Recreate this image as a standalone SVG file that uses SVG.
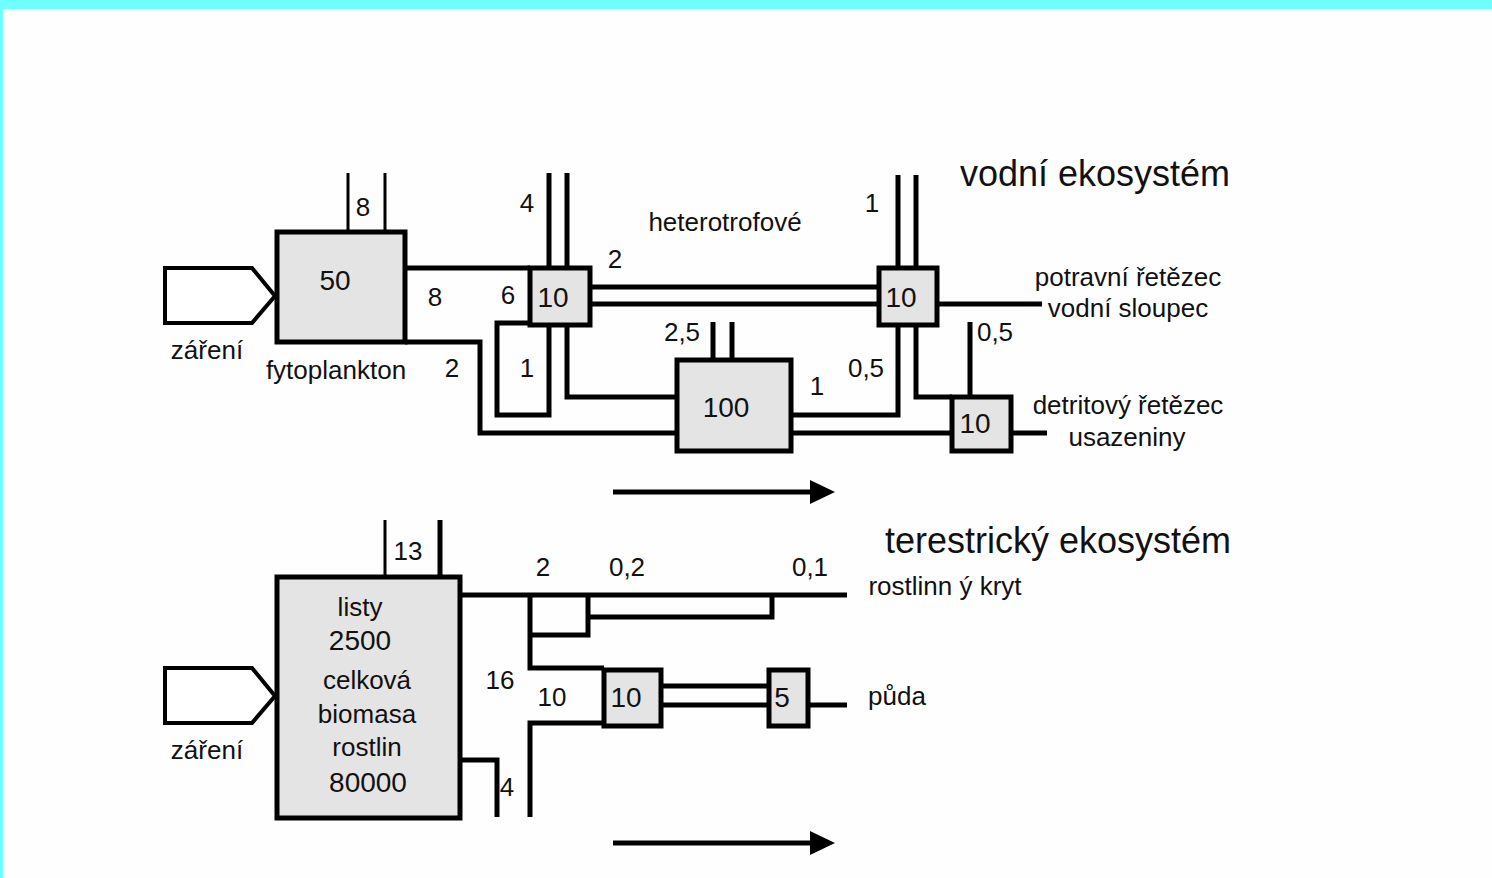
<svg xmlns="http://www.w3.org/2000/svg" width="1492" height="878" viewBox="0 0 1492 878">
<style>
text{font-family:"Liberation Sans",Arial,sans-serif;font-size:26px;fill:#111;text-anchor:middle;dominant-baseline:central}
.t{font-size:36px}
.n{font-size:28px}
.box{fill:#e4e4e4;stroke:#000;stroke-width:5}
.c{fill:none;stroke:#000;stroke-width:5}
.thin{fill:none;stroke:#000;stroke-width:3}
.src{fill:#fff;stroke:#000;stroke-width:4;stroke-linejoin:miter}
</style>
<rect x="0" y="0" width="1492" height="878" fill="#fefefe"/>
<rect x="0" y="0" width="1492" height="9" fill="#70ffff"/>
<rect x="0" y="0" width="3" height="878" fill="#70ffff"/>

<g id="connectors">
  <path class="thin" d="M348,173 V232 M385,173 V232"/>
  <path class="c" d="M405,268 H530"/>
  <path class="c" d="M405,342 H480 V433 H677"/>
  <path class="c" d="M549,173 V268 M567,173 V268"/>
  <path class="c" d="M590,287 H879 M590,304 H879"/>
  <path class="c" d="M530,323 H497 V415 H549 V325"/>
  <path class="c" d="M567,325 V397 H677"/>
  <path class="c" d="M713,322 V360 M732,322 V360"/>
  <path class="c" d="M791,415 H898 V325"/>
  <path class="c" d="M791,433 H952"/>
  <path class="c" d="M898,175 V268 M916,175 V268"/>
  <path class="c" d="M916,325 V397 H952"/>
  <path class="c" d="M970,322 V397"/>
  <path class="c" d="M937,304 H1042"/>
  <path class="c" d="M1011,433 H1047"/>
  <path class="c" d="M613,492 H812"/>
  <polygon points="810,480 835,492 810,504" fill="#000"/>

  <path class="thin" d="M385,520 V577"/>
  <path class="c" d="M440,520 V577"/>
  <path class="c" d="M460,595 H847"/>
  <path class="c" d="M530,595 V668 H604"/>
  <path class="c" d="M530,635 H588 V595"/>
  <path class="c" d="M588,617 H772 V595"/>
  <path class="c" d="M661,686 H769 M661,705 H769"/>
  <path class="c" d="M808,705 H847"/>
  <path class="c" d="M604,723 H530 V817"/>
  <path class="c" d="M460,760 H497 V817"/>
  <path class="c" d="M613,843 H812"/>
  <polygon points="810,831 835,843 810,855" fill="#000"/>
</g>

<g id="zareni-top">
  <polygon class="src" points="165,268 252,268 275,296 252,323 165,323"/>
  <text x="207" y="350">záření</text>
</g>
<g id="fytoplankton">
  <rect class="box" x="277" y="232" width="128" height="110"/>
  <text class="n" x="335" y="280">50</text>
  <text x="336" y="370">fytoplankton</text>
</g>
<g id="het1">
  <rect class="box" x="530" y="268" width="60" height="57"/>
  <text class="n" x="553" y="297">10</text>
</g>
<g id="het100">
  <rect class="box" x="677" y="360" width="114" height="91"/>
  <text class="n" x="726" y="407">100</text>
</g>
<g id="het2">
  <rect class="box" x="879" y="268" width="58" height="57"/>
  <text class="n" x="901" y="297">10</text>
</g>
<g id="det">
  <rect class="box" x="952" y="397" width="59" height="54"/>
  <text class="n" x="975" y="423">10</text>
</g>

<g id="labels-top">
  <text x="363" y="207">8</text>
  <text x="435" y="297">8</text>
  <text x="452" y="368">2</text>
  <text x="527" y="203">4</text>
  <text x="725" y="222">heterotrofové</text>
  <text x="615" y="259">2</text>
  <text x="508" y="295">6</text>
  <text x="527" y="368">1</text>
  <text x="682" y="332">2,5</text>
  <text x="817" y="386">1</text>
  <text x="872" y="203">1</text>
  <text x="866" y="368">0,5</text>
  <text x="995" y="332">0,5</text>
  <text class="t" x="1095" y="173">vodní ekosystém</text>
  <text x="1128" y="277">potravní řetězec</text>
  <text x="1128" y="308">vodní sloupec</text>
  <text x="1128" y="405">detritový řetězec</text>
  <text x="1127" y="437">usazeniny</text>
</g>

<g id="zareni-bottom">
  <polygon class="src" points="165,668 252,668 275,696 252,723 165,723"/>
  <text x="207" y="750">záření</text>
</g>
<g id="rostliny">
  <rect class="box" x="277" y="577" width="183" height="241"/>
  <text x="360" y="607">listy</text>
  <text class="n" x="360" y="640">2500</text>
  <text x="367" y="680">celková</text>
  <text x="367" y="714">biomasa</text>
  <text x="367" y="747">rostlin</text>
  <text class="n" x="368" y="782">80000</text>
</g>
<g id="puda10">
  <rect class="box" x="604" y="670" width="57" height="56"/>
  <text class="n" x="626" y="697">10</text>
</g>
<g id="puda5">
  <rect class="box" x="769" y="670" width="39" height="56"/>
  <text class="n" x="782" y="697">5</text>
</g>
<g id="labels-bottom">
  <text x="408" y="551">13</text>
  <text x="543" y="567">2</text>
  <text x="627" y="567">0,2</text>
  <text x="810" y="567">0,1</text>
  <text x="500" y="680">16</text>
  <text x="552" y="697">10</text>
  <text x="507" y="787">4</text>
  <text class="t" x="1058" y="540">terestrický ekosystém</text>
  <text x="945" y="586">rostlinn ý kryt</text>
  <text x="897" y="696">půda</text>
</g>
</svg>
